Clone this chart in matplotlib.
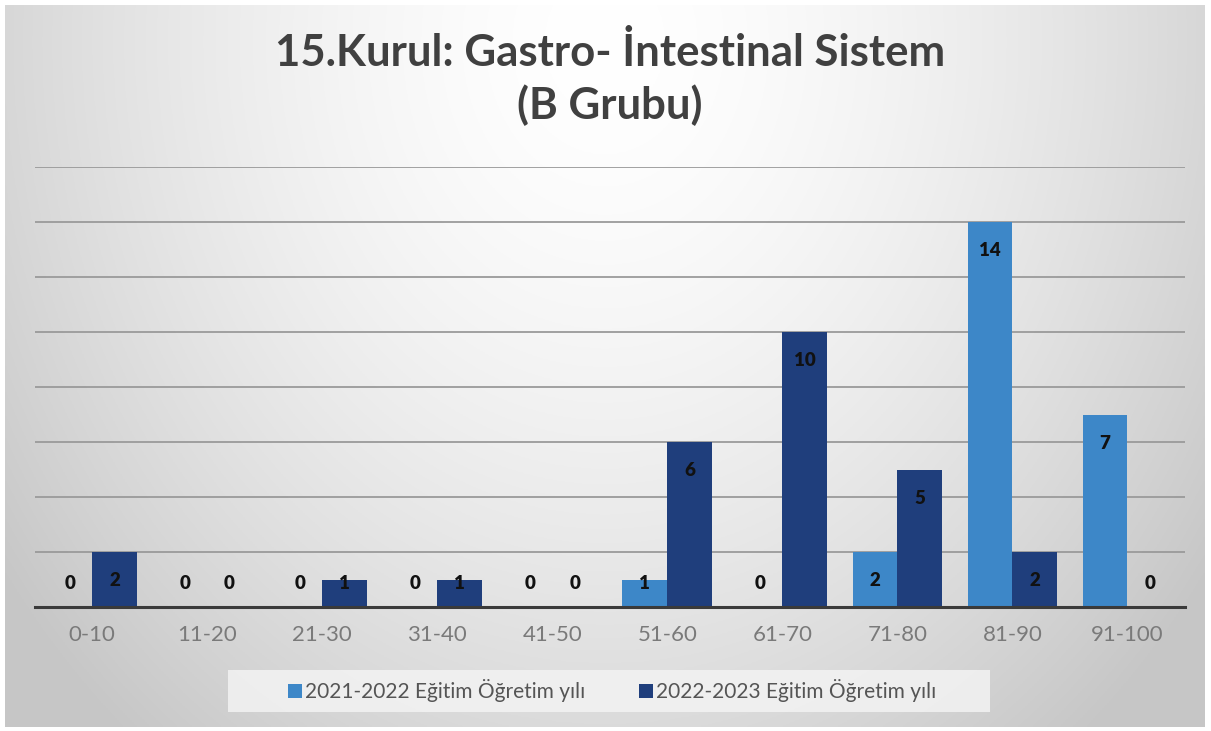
"""Grouped bar chart: 15.Kurul Gastro-Intestinal Sistem (B Grubu)."""
import numpy as np
import matplotlib
matplotlib.use('Agg')
import matplotlib.pyplot as plt
from matplotlib.patches import Rectangle

plt.rcParams['font.family'] = ['Lato', 'DejaVu Sans']

# data
categories = ['0-10', '11-20', '21-30', '31-40', '41-50',
              '51-60', '61-70', '71-80', '81-90', '91-100']
year_2021 = [0, 0, 0, 0, 0, 1, 0, 2, 14, 7]
year_2022 = [2, 0, 1, 1, 0, 6, 10, 5, 2, 0]
series_names = ['2021-2022 Eğitim Öğretim yılı', '2022-2023 Eğitim Öğretim yılı']

light = '#3d87c8'
dark = '#1f3e7c'

W, H = 1211, 731
fig = plt.figure(figsize=(W / 100, H / 100), dpi=100)
fig.patch.set_facecolor('white')

# radial gradient background like the Excel chart area
bg = fig.add_axes([5 / W, 4 / H, 1200 / W, 722 / H])
yy, xx = np.mgrid[0:1:300j, 0:1:500j]
r = np.sqrt(((xx - 0.5) / 0.62) ** 2 + ((yy - 0.05) / 1.25) ** 2)
shade = 1.0 - 0.22 * np.clip(r, 0, 1) ** 1.6
bg.imshow(np.dstack([shade] * 3), aspect='auto', extent=[0, 1, 0, 1], origin='upper')
bg.set_axis_off()

# plot area
ax = fig.add_axes([34.5 / W, 124 / H, 1150.5 / W, 440 / H])
ax.patch.set_alpha(0)
x = np.arange(len(categories))
w = 0.39
ax.bar(x - w / 2, year_2021, w, color=light, zorder=3, label=series_names[0])
ax.bar(x + w / 2, year_2022, w, color=dark, zorder=3, label=series_names[1])

for vals, off in [(year_2021, -w / 2), (year_2022, w / 2)]:
    for xi, v in zip(x, vals):
        ax.text(xi + off, max(v - 1.05, 0.87), str(v), ha='center', va='center',
                fontsize=13.5, fontweight='heavy', color='#111111', zorder=4)

ax.set_xlim(-0.5, len(categories) - 0.5)
ax.set_ylim(0, 16)
ax.set_yticks(np.arange(0, 17, 2))
ax.yaxis.grid(True, color='#9a9a9a', linewidth=1.3, zorder=0)
ax.set_yticklabels([])
ax.tick_params(axis='y', length=0)
ax.set_xticks(x)
ax.set_xticklabels(categories, fontsize=16, color='#7a7a7a')
ax.tick_params(axis='x', length=0, pad=13)
for s in ['top', 'right', 'left']:
    ax.spines[s].set_visible(False)
ax.spines['bottom'].set_color('#3a3a3a')
ax.spines['bottom'].set_linewidth(2.2)
ax.spines['bottom'].set_zorder(5)

# title
fig.text(610 / W, 1 - 52 / H, '15.Kurul: Gastro- İntestinal Sistem', ha='center', va='center',
         fontsize=31.5, fontweight='bold', color='#404040')
fig.text(610 / W, 1 - 105 / H, '(B Grubu)', ha='center', va='center',
         fontsize=31.5, fontweight='bold', color='#404040')

# legend with its light box
fig.patches.append(Rectangle((228 / W, 1 - 712 / H), 762 / W, 42 / H,
                             transform=fig.transFigure, facecolor='#f3f3f3',
                             edgecolor='none', alpha=0.85, zorder=1))
fig.legend(loc='center', bbox_to_anchor=(612 / W, 1 - 691 / H), ncol=2, frameon=False,
           fontsize=15, labelcolor='#555555', handlelength=0.65, handleheight=0.65,
           handletextpad=0.15, columnspacing=2.6)

fig.savefig('out.png', dpi=100)
